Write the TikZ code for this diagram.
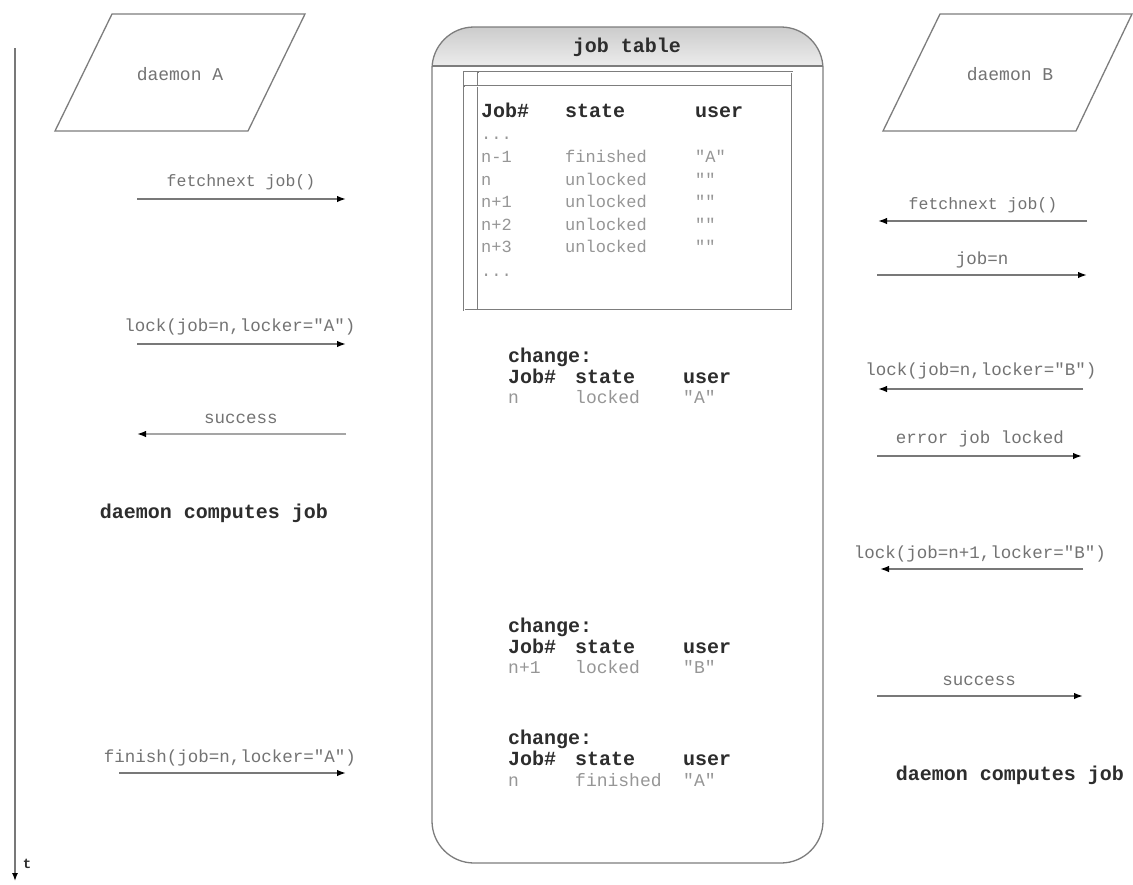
\documentclass[tikz,border=0pt]{standalone}
\usepackage{fontspec}
\setmonofont{Liberation Mono}
\usetikzlibrary{arrows.meta}
\definecolor{linegray}{RGB}{120,120,120}
\definecolor{lightline}{RGB}{165,165,165}
\definecolor{labelgray}{RGB}{115,115,115}
\definecolor{rowgray}{RGB}{150,150,150}
\definecolor{headgray}{RGB}{45,45,45}
\definecolor{framegray}{RGB}{125,125,125}
\tikzset{
  msg/.style={font=\fontsize{17.5}{20}\selectfont\ttfamily, text=labelgray, anchor=base, inner sep=0pt},
  heading/.style={font=\fontsize{20}{23}\selectfont\ttfamily\bfseries, text=headgray, anchor=base west, inner sep=0pt},
  row/.style={font=\fontsize{17}{20}\selectfont\ttfamily, text=rowgray, anchor=base west, inner sep=0pt},
  bigtext/.style={font=\fontsize{20}{23}\selectfont\ttfamily\bfseries, text=headgray, inner sep=0pt},
  daemonname/.style={font=\fontsize{18}{21}\selectfont\ttfamily, text=labelgray, inner sep=0pt},
  call/.style={draw=linegray, line width=1.6pt, -{Latex[length=9pt,width=6.5pt,fill=black,color=black]}},
  faintcall/.style={call, draw=lightline},
  boxline/.style={draw=framegray, line width=1.3pt},
  dbl/.style={draw=framegray, line width=2.8pt},
  dblgap/.style={draw=white, line width=0.9pt},
}
\begin{document}
\begin{tikzpicture}[x=1pt, y=-1pt]
\useasboundingbox (0,0) rectangle (1133,884);
\fill[white] (0,0) rectangle (1133,884);

% time axis
\coordinate (t0) at (15,48);
\coordinate (t1) at (15,881);
\draw[draw=linegray, line width=1.4pt, -{Latex[length=8pt,width=6pt,fill=black,color=black]}] (t0) -- (t1);
\node[font=\fontsize{14}{16}\selectfont\ttfamily\bfseries, text=headgray] (tlabel) at (27,864) {t};

% daemon A
\draw[boxline] (112,14) -- (305,14) -- (248,131) -- (55,131) -- cycle;
\node[daemonname] (dA) at (180,74) {daemon A};

% daemon B
\draw[boxline] (940,14) -- (1132,14) -- (1076,131) -- (883,131) -- cycle;
\node[daemonname] (dB) at (1010,74) {daemon B};

% job table container
\begin{scope}
  \clip[rounded corners=42pt] (432,27) rectangle (823,863);
  \shade[top color=gray!40, bottom color=gray!15] (432,27) rectangle (823,66);
\end{scope}
\draw[boxline] (432,66) -- (823,66);
\node[draw=framegray, line width=1.3pt, rounded corners=42pt, minimum width=391pt, minimum height=836pt] (jobtable) at (627.5,445) {};
\node[bigtext] (title) at (627,47) {job table};

% inner table frame (double ruled)
\draw[dbl] (464,72) rectangle (792,310);
\draw[dblgap] (464,72) rectangle (792,310);
\draw[dbl] (478,72) -- (478,310);
\draw[dblgap] (478,73) -- (478,309);
\draw[dbl] (464,86) -- (792,86);
\draw[dblgap] (465,86) -- (791,86);

% table contents
\node[heading] (h1) at (481,117) {Job\#};
\node[heading] (h2) at (565,117) {state};
\node[heading] (h3) at (695,117) {user};
\node[row] (r0) at (481,139) {...};
\node[row] (r1a) at (481,162) {n-1};  \node[row] (r1b) at (565,162) {finished}; \node[row] (r1c) at (695,162) {"A"};
\node[row] (r2a) at (481,185) {n};    \node[row] (r2b) at (565,185) {unlocked}; \node[row] (r2c) at (695,185) {""};
\node[row] (r3a) at (481,207) {n+1};  \node[row] (r3b) at (565,207) {unlocked}; \node[row] (r3c) at (695,207) {""};
\node[row] (r4a) at (481,230) {n+2};  \node[row] (r4b) at (565,230) {unlocked}; \node[row] (r4c) at (695,230) {""};
\node[row] (r5a) at (481,252) {n+3};  \node[row] (r5b) at (565,252) {unlocked}; \node[row] (r5c) at (695,252) {""};
\node[row] (r6) at (481,276) {...};

% change records
\tikzset{row/.append style={font=\fontsize{18}{21}\selectfont\ttfamily}}
\node[heading] (c1) at (508,362) {change:};
\node[heading] (c1a) at (508,383) {Job\#};
\node[heading] (c1b) at (575,383) {state};
\node[heading] (c1c) at (683,383) {user};
\node[row] (c1d) at (508,403) {n};
\node[row] (c1e) at (575,403) {locked};
\node[row] (c1f) at (683,403) {"A"};

\node[heading] (c2) at (508,632) {change:};
\node[heading] (c2a) at (508,653) {Job\#};
\node[heading] (c2b) at (575,653) {state};
\node[heading] (c2c) at (683,653) {user};
\node[row] (c2d) at (508,673) {n+1};
\node[row] (c2e) at (575,673) {locked};
\node[row] (c2f) at (683,673) {"B"};

\node[heading] (c3) at (508,744) {change:};
\node[heading] (c3a) at (508,765) {Job\#};
\node[heading] (c3b) at (575,765) {state};
\node[heading] (c3c) at (683,765) {user};
\node[row] (c3d) at (508,786) {n};
\node[row] (c3e) at (575,786) {finished};
\node[row] (c3f) at (683,786) {"A"};

% daemon A messages
\node[msg, font=\fontsize{16.5}{19}\selectfont\ttfamily] (mA1) at (241,186) {fetchnext job()};
\coordinate (a1s) at (137,199); \coordinate (a1e) at (346,199);
\draw[call] (a1s) -- (a1e);

\node[msg] (mA2) at (240,331) {lock(job=n,locker="A")};
\coordinate (a2s) at (137,344); \coordinate (a2e) at (346,344);
\draw[call] (a2s) -- (a2e);

\node[msg] (mA3) at (241,423) {success};
\coordinate (a3s) at (346,434); \coordinate (a3e) at (137,434);
\draw[faintcall] (a3s) -- (a3e);

\node[bigtext] (workA) at (214,513) {daemon computes job};

\node[msg] (mA4) at (230,762) {finish(job=n,locker="A")};
\coordinate (a4s) at (119,773); \coordinate (a4e) at (346,773);
\draw[call] (a4s) -- (a4e);

% daemon B messages
\node[msg, font=\fontsize{16.5}{19}\selectfont\ttfamily] (mB1) at (983,209) {fetchnext job()};
\coordinate (b1s) at (1087,221); \coordinate (b1e) at (878,221);
\draw[call] (b1s) -- (b1e);

\node[msg] (mB2) at (982,264) {job=n};
\coordinate (b2s) at (877,275); \coordinate (b2e) at (1087,275);
\draw[call] (b2s) -- (b2e);

\node[msg] (mB3) at (981,375) {lock(job=n,locker="B")};
\coordinate (b3s) at (1083,389); \coordinate (b3e) at (878,389);
\draw[call] (b3s) -- (b3e);

\node[msg] (mB4) at (980,443) {error job locked};
\coordinate (b4s) at (877,456); \coordinate (b4e) at (1082,456);
\draw[call] (b4s) -- (b4e);

\node[msg] (mB5) at (980,558) {lock(job=n+1,locker="B")};
\coordinate (b5s) at (1083,569); \coordinate (b5e) at (880,569);
\draw[call] (b5s) -- (b5e);

\node[msg] (mB6) at (979,685) {success};
\coordinate (b6s) at (877,696); \coordinate (b6e) at (1083,696);
\draw[call] (b6s) -- (b6e);

\node[bigtext] (workB) at (1010,775) {daemon computes job};
\end{tikzpicture}
\end{document}
